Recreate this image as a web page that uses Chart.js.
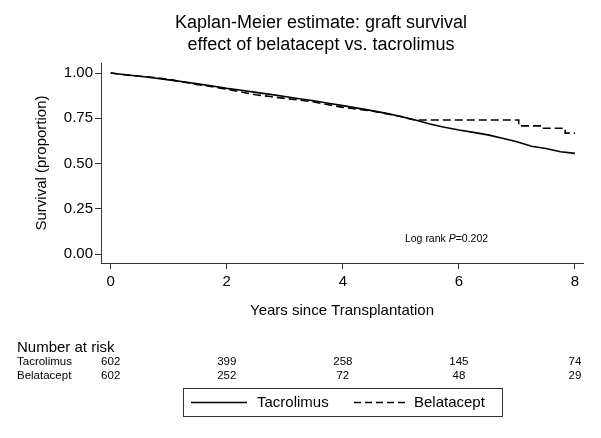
<!DOCTYPE html>
<html>
<head>
<meta charset="utf-8">
<script src="https://cdn.jsdelivr.net/npm/chart.js@4.4.0/dist/chart.umd.min.js"></script>
<style>
  html, body { margin: 0; padding: 0; background: #fff; }
  #kmChart { display: block; }
</style>
</head>
<body>
<canvas id="kmChart" width="601" height="438"></canvas>
<script>
// survival curves
const tacroYears = [0, 0.25, 0.5, 0.75, 1, 1.25, 1.5, 1.75, 2, 2.25, 2.5, 2.75, 3, 3.25, 3.5, 3.75, 4,
  4.25, 4.5, 4.75, 5, 5.25, 5.5, 5.75, 6, 6.25, 6.5, 6.75, 7, 7.25, 7.5, 7.75, 8];
const tacroSurv = [1.0, 0.99, 0.982, 0.972, 0.962, 0.952, 0.94, 0.928, 0.915, 0.905, 0.893, 0.882, 0.87,
  0.858, 0.847, 0.833, 0.82, 0.806, 0.792, 0.777, 0.76, 0.74, 0.718, 0.7, 0.685, 0.672, 0.658, 0.64,
  0.62, 0.595, 0.583, 0.565, 0.556];

const belaYears = [0, 0.25, 0.5, 0.75, 1, 1.25, 1.5, 1.75, 2, 2.25, 2.5, 2.75, 3, 3.25, 3.5, 3.75, 4,
  4.25, 4.5, 4.75, 5, 5.1, 5.25, 7.03, 7.03, 7.4, 7.4, 7.83, 7.83, 8];
const belaSurv = [1.0, 0.99, 0.982, 0.975, 0.965, 0.95, 0.935, 0.925, 0.91, 0.895, 0.88, 0.87, 0.86,
  0.85, 0.84, 0.825, 0.81, 0.8, 0.79, 0.775, 0.76, 0.75, 0.74, 0.74, 0.708, 0.708, 0.695, 0.695, 0.668, 0.668];

const xTicks = [0, 2, 4, 6, 8];
const yTicks = [0, 0.25, 0.5, 0.75, 1];

const seriesNames = ["Tacrolimus", "Belatacept"];
const riskTacro = [602, 399, 258, 145, 74];
const riskBela = [602, 252, 72, 48, 29];

const titleLines = ["Kaplan-Meier estimate: graft survival", "effect of belatacept vs. tacrolimus"];

const FONT = '"Liberation Sans", Arial, sans-serif';

const toPoints = (xs, ys) => xs.map((x, i) => ({ x: x, y: ys[i] }));

// title, log-rank note, number-at-risk table and boxed legend
const extrasPlugin = {
  id: "kmExtras",
  afterDraw(chart) {
    const ctx = chart.ctx;
    const xs = chart.scales.x;
    const ys = chart.scales.y;
    ctx.save();
    ctx.fillStyle = "#000";
    ctx.textBaseline = "middle";

    ctx.font = "18px " + FONT;
    ctx.textAlign = "center";
    ctx.fillText(titleLines[0], 321, 23);
    ctx.fillText(titleLines[1], 321, 45);

    // log rank text
    ctx.font = "10.5px " + FONT;
    ctx.textAlign = "left";
    let lx = xs.getPixelForValue(5.07);
    const ly = ys.getPixelForValue(0.083);
    ctx.fillText("Log rank ", lx, ly);
    lx += ctx.measureText("Log rank ").width;
    ctx.font = "italic 10.5px " + FONT;
    ctx.fillText("P", lx, ly);
    lx += ctx.measureText("P").width;
    ctx.font = "10.5px " + FONT;
    ctx.fillText("=0.202", lx, ly);

    // number at risk
    ctx.font = "15px " + FONT;
    ctx.fillText("Number at risk", 17, 348);
    ctx.font = "11.5px " + FONT;
    const rows = [riskTacro, riskBela];
    rows.forEach((row, r) => {
      const y = 362 + r * 14;
      ctx.textAlign = "left";
      ctx.fillText(seriesNames[r], 17, y);
      ctx.textAlign = "center";
      row.forEach((n, i) => ctx.fillText(String(n), xs.getPixelForValue(xTicks[i]), y));
    });

    // legend box
    ctx.strokeStyle = "#333";
    ctx.lineWidth = 1;
    ctx.strokeRect(183.5, 388.5, 319, 28);
    const legY = 402.5;
    ctx.font = "15px " + FONT;
    ctx.textAlign = "left";
    ctx.lineWidth = 1.4;
    ctx.strokeStyle = "#000";
    ctx.beginPath();
    ctx.moveTo(191, legY);
    ctx.lineTo(247, legY);
    ctx.stroke();
    ctx.fillText(seriesNames[0], 257, legY);
    ctx.setLineDash([7, 4]);
    ctx.beginPath();
    ctx.moveTo(354, legY);
    ctx.lineTo(407, legY);
    ctx.stroke();
    ctx.setLineDash([]);
    ctx.fillText(seriesNames[1], 414, legY);
    ctx.restore();
  }
};

new Chart(document.getElementById("kmChart"), {
  type: "line",
  data: {
    datasets: [
      {
        label: seriesNames[0],
        data: toPoints(tacroYears, tacroSurv),
        borderColor: "#000",
        borderWidth: 1.6,
        pointRadius: 0,
        tension: 0
      },
      {
        label: seriesNames[1],
        data: toPoints(belaYears, belaSurv),
        borderColor: "#000",
        borderWidth: 1.6,
        borderDash: [8, 4],
        pointRadius: 0,
        tension: 0
      }
    ]
  },
  options: {
    responsive: false,
    animation: false,
    layout: { padding: { top: 63, right: 18, bottom: 115, left: 0 } },
    plugins: {
      legend: { display: false },
      title: { display: false },
      tooltip: { enabled: false }
    },
    scales: {
      x: {
        type: "linear",
        min: -0.167,
        max: 8.138,
        afterFit: (s) => { s.height = 60; },
        afterBuildTicks: (s) => { s.ticks = xTicks.map((v) => ({ value: v })); },
        grid: { drawOnChartArea: false, drawTicks: true, tickLength: 6, color: "#333" },
        border: { color: "#333", width: 1 },
        ticks: { color: "#000", padding: 4, maxRotation: 0, font: { family: FONT, size: 15 } },
        title: {
          display: true,
          text: "Years since Transplantation",
          color: "#000",
          padding: { top: 0, bottom: 3 },
          font: { family: FONT, size: 15 }
        }
      },
      y: {
        min: -0.0497,
        max: 1.0553,
        afterFit: (s) => { s.width = 101; },
        afterBuildTicks: (s) => { s.ticks = yTicks.map((v) => ({ value: v })); },
        grid: { drawOnChartArea: false, drawTicks: true, tickLength: 6, color: "#333" },
        border: { color: "#333", width: 1 },
        ticks: {
          color: "#000",
          padding: 2,
          font: { family: FONT, size: 15 },
          callback: (v) => Number(v).toFixed(2)
        },
        title: {
          display: true,
          text: "Survival (proportion)",
          color: "#000",
          padding: { top: 33, bottom: 0 },
          font: { family: FONT, size: 15 }
        }
      }
    }
  },
  plugins: [extrasPlugin]
});
</script>
</body>
</html>
